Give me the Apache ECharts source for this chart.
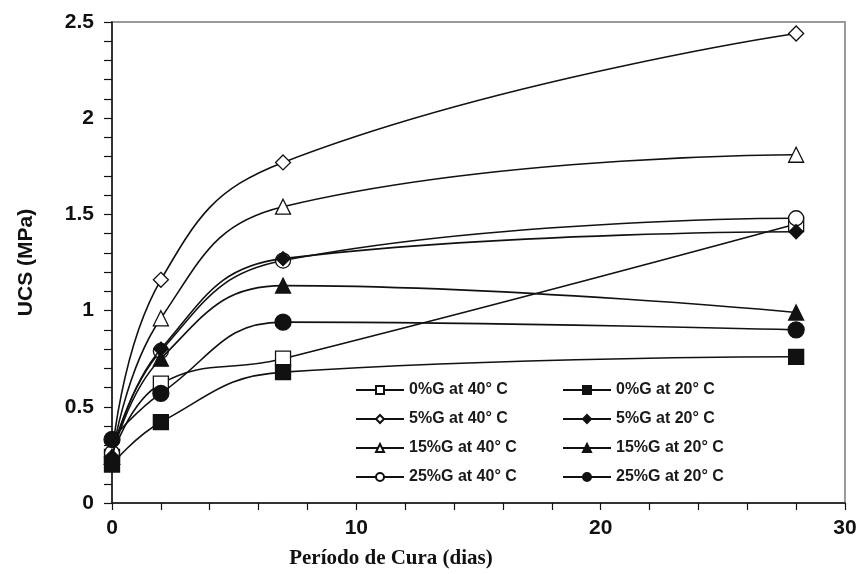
<!DOCTYPE html>
<html>
<head>
<meta charset="utf-8">
<script src="https://cdn.jsdelivr.net/npm/echarts@6/dist/echarts.min.js"></script>
<style>
  html, body { margin: 0; padding: 0; background: #fff; }
  #chart { width: 860px; height: 574px; }
</style>
</head>
<body>
<div id="chart"></div>
<script>
// curing time (days)
const days = [0, 2, 7, 28];
// UCS values (MPa)
const g0_40 = [0.24, 0.62, 0.75, 1.45];
const g0_20 = [0.20, 0.42, 0.68, 0.76];
const g5_40 = [0.24, 1.16, 1.77, 2.44];
const g5_20 = [0.24, 0.80, 1.27, 1.41];
const g15_40 = [0.24, 0.96, 1.54, 1.81];
const g15_20 = [0.24, 0.75, 1.13, 0.99];
const g25_40 = [0.26, 0.79, 1.26, 1.48];
const g25_20 = [0.33, 0.57, 0.94, 0.90];

const names40 = ['0%G at 40° C', '5%G at 40° C', '15%G at 40° C', '25%G at 40° C'];
const names20 = ['0%G at 20° C', '5%G at 20° C', '15%G at 20° C', '25%G at 20° C'];

const pair = arr => days.map((d, i) => [d, arr[i]]);

const chart = echarts.init(document.getElementById('chart'));

function mk(name, arr, symbol, filled, size) {
    return {
        name: name,
        type: 'line',
        smooth: 0.45,
        data: pair(arr),
        symbol: symbol,
        symbolSize: size,
        lineStyle: { color: '#111', width: 1.6 },
        itemStyle: {
            color: filled ? '#111' : '#fff',
            borderColor: '#111',
            borderWidth: 1.3
        },
        z: filled ? 3 : 2
    };
}

const legendText = { fontFamily: 'Liberation Sans', fontWeight: 'bold', fontSize: 16, color: '#1a1a1a' };
const tickLine = { color: '#111', width: 1.2 };

chart.setOption({
    animation: false,
    backgroundColor: '#fff',
    grid: {
        left: 112, right: 15, top: 22, bottom: 69,
        show: true, borderColor: '#9a9a9a', borderWidth: 2
    },
    legend: [
        {
            left: 350, top: 377, orient: 'vertical',
            itemWidth: 48, itemHeight: 10, itemGap: 13,
            textStyle: legendText,
            data: names40
        },
        {
            left: 557, top: 377, orient: 'vertical',
            itemWidth: 48, itemHeight: 10, itemGap: 13,
            textStyle: legendText,
            data: names20
        }
    ],
    xAxis: {
        type: 'value', min: 0, max: 30, interval: 10,
        name: 'Período de Cura (dias)',
        nameLocation: 'middle', nameGap: 45,
        nameTextStyle: {
            fontFamily: 'Liberation Serif', fontWeight: 'bold', fontSize: 21, color: '#111',
            padding: [0, 175, 0, 0]
        },
        axisLine: { lineStyle: { color: '#111', width: 1.5 } },
        axisTick: { length: 7, lineStyle: tickLine },
        minorTick: { show: true, splitNumber: 5, length: 7, lineStyle: tickLine },
        axisLabel: { fontFamily: 'Liberation Sans', fontWeight: 'bold', fontSize: 21, color: '#111', margin: 15 },
        splitLine: { show: false }
    },
    yAxis: {
        type: 'value', min: 0, max: 2.5, interval: 0.5,
        name: 'UCS (MPa)',
        nameLocation: 'middle', nameGap: 75, nameRotate: 90,
        nameTextStyle: { fontFamily: 'Liberation Sans', fontWeight: 'bold', fontSize: 21, color: '#111' },
        axisLine: { lineStyle: { color: '#111', width: 1.5 } },
        axisTick: { length: 8, lineStyle: tickLine },
        minorTick: { show: true, splitNumber: 5, length: 8, lineStyle: tickLine },
        axisLabel: { fontFamily: 'Liberation Sans', fontWeight: 'bold', fontSize: 21, color: '#111', margin: 18 },
        splitLine: { show: false }
    },
    series: [
        mk(names40[0], g0_40, 'rect', false, 15),
        mk(names40[1], g5_40, 'diamond', false, 15),
        mk(names40[2], g15_40, 'triangle', false, 15),
        mk(names40[3], g25_40, 'circle', false, 15),
        mk(names20[0], g0_20, 'rect', true, 15),
        mk(names20[1], g5_20, 'diamond', true, 14),
        mk(names20[2], g15_20, 'triangle', true, 15),
        mk(names20[3], g25_20, 'circle', true, 16)
    ]
});
</script>
</body>
</html>
